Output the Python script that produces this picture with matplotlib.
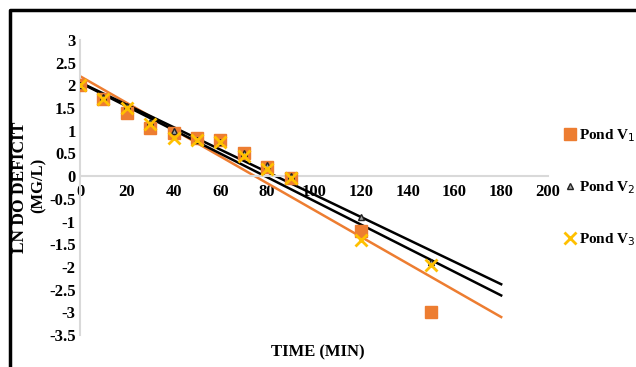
import matplotlib.pyplot as plt
import numpy as np

time = [0, 10, 20, 30, 40, 50, 60, 70, 80, 90, 120, 150]
v1 = [2.0, 1.7, 1.4, 1.05, 0.95, 0.85, 0.8, 0.5, 0.2, -0.05, -1.2, -3.0]
v2 = [2.0, 1.75, 1.55, 1.2, 1.0, 0.8, 0.75, 0.5, 0.25, 0.0, -0.9, -1.9]
v3 = [2.0, 1.7, 1.5, 1.15, 0.85, 0.8, 0.75, 0.45, 0.15, -0.05, -1.4, -1.95]
fit_end = 180

serif = "Liberation Serif"
fig = plt.figure(figsize=(6.36, 3.67), dpi=100)
ax = fig.add_axes([0.1258, 0.0872, 0.7358, 0.804])

# trend lines (linear least squares, like excel)
xs = np.array([0, fit_end])
for ys, c in [(v1, "#ED7D31"), (v2, "black"), (v3, "black")]:
    m, b = np.polyfit(time, ys, 1)
    ax.plot(xs, m * xs + b, color=c, lw=1.8, zorder=2)

ax.plot(time, v1, "s", color="#ED7D31", ms=9, zorder=3, label="Pond V$_1$")
ax.plot(time, v2, "^", color="#A5A5A5", mec="#222222", ms=5, zorder=4, label="Pond V$_2$")
ax.plot(time, v3, "x", color="#FFC000", ms=8, mew=2, zorder=5, label="Pond V$_3$")

ax.set_xlim(0, 200)
ax.set_ylim(-3.5, 3)
ax.set_xticks(range(0, 201, 20))
yt = np.arange(-3.5, 3.01, 0.5)
ax.set_yticks(yt)
ax.set_yticklabels(["%g" % v for v in yt])

for s in ["top", "right"]:
    ax.spines[s].set_visible(False)
ax.spines["bottom"].set_position(("data", 0))
for s in ["bottom", "left"]:
    ax.spines[s].set_color("#D9D9D9")
    ax.spines[s].set_linewidth(1.5)
ax.tick_params(axis="x", length=0, labelsize=12, pad=6)
ax.tick_params(axis="y", length=0, labelsize=12, pad=3)
for t in ax.get_xticklabels() + ax.get_yticklabels():
    t.set_fontfamily(serif)
    t.set_fontweight("bold")

# y label, two lines placed separately
fig.text(0.032, 0.49, "LN DO DEFICIT", rotation=90, ha="center", va="center",
         fontfamily=serif, fontweight="bold", fontsize=12.5)
fig.text(0.061, 0.495, "(MG/L)", rotation=90, ha="center", va="center",
         fontfamily=serif, fontweight="bold", fontsize=12)
fig.text(0.5, 0.04, "TIME (MIN)", ha="center", va="center", fontfamily=serif,
         fontweight="bold", fontsize=12)

leg = ax.legend(loc="center left", bbox_to_anchor=(1.0, 0.50), frameon=False,
                prop={"family": serif, "weight": "bold", "size": 11},
                handletextpad=0.1, handlelength=0.9, labelspacing=2.3,
                borderaxespad=0.6)

# outer border
fig.add_artist(plt.Line2D([0.016, 0.016, 1.0], [0.0, 0.973, 0.973], color="black",
                          lw=2.5, transform=fig.transFigure))

fig.savefig("out.png", dpi=100)
